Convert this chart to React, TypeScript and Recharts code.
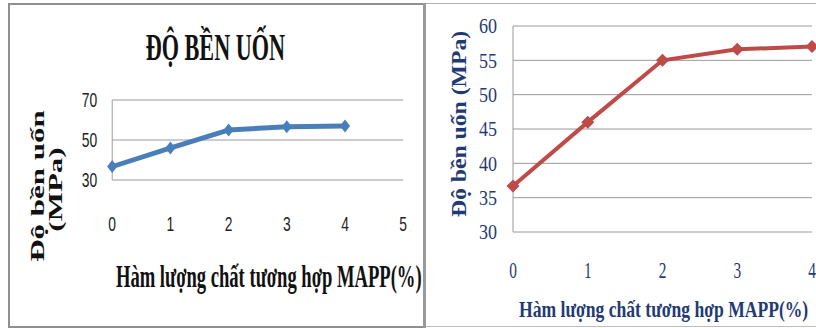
import { LineChart, Line, XAxis, YAxis, CartesianGrid } from "recharts";

// MAPP content (%) vs flexural strength (MPa)
const MAPP_LEVELS = [0, 1, 2, 3, 4];
const FLEX_STRENGTH = [36.7, 46.0, 55.0, 56.6, 57.0];

const LEFT_X_TICKS = [0, 1, 2, 3, 4, 5];
const LEFT_Y_TICKS = [30, 50, 70];
const RIGHT_X_TICKS = [0, 1, 2, 3, 4];
const RIGHT_Y_TICKS = [30, 35, 40, 45, 50, 55, 60];

const TITLE = "ĐỘ BỀN UỐN";
const X_TITLE = "Hàm lượng chất tương hợp MAPP(%)";
const Y_TITLE = "Độ bền uốn (MPa)";
const Y_TITLE_LINES = ["Độ bền uốn", "(MPa)"];

const SERIF = "'Liberation Serif', 'Times New Roman', serif";
const SANS = "'Liberation Sans', Arial, sans-serif";
const NAVY = "#1F3A74";
const BLUE = "#4A7EBB";
const RED = "#BE4B48";
const GRID = "#9a9a9a";

// the left panel is drawn wide and squeezed horizontally
const SQUEEZE = 0.6;
const LEFT_W = 708;

const data = MAPP_LEVELS.map((x, i) => ({ x, y: FLEX_STRENGTH[i] }));

// eslint-disable-next-line @typescript-eslint/no-explicit-any
type Any = any;

function diamond(rx: number, ry: number, fill: string) {
  return (p: Any) => {
    const { cx, cy, index } = p;
    if (cx == null || cy == null) return <g key={index} />;
    return (
      <polygon
        key={index}
        points={`${cx},${cy - ry} ${cx + rx},${cy} ${cx},${cy + ry} ${cx - rx},${cy}`}
        fill={fill}
      />
    );
  };
}

// tick text with its own horizontal stretch; `top` puts the glyph top at y instead of centering
function StretchTick(p: Any) {
  const { x, y, payload, sx, fontSize, fill, fontFamily, anchor, top, capH } = p;
  const dy = top ? fontSize * capH : fontSize * 0.35;
  return (
    <g transform={`translate(${x},${y}) scale(${sx},1)`}>
      <text x={0} y={dy} textAnchor={anchor} fontSize={fontSize} fill={fill} fontFamily={fontFamily}>
        {payload.value}
      </text>
    </g>
  );
}

function LeftPanel() {
  return (
    <div
      style={{
        position: "absolute", left: 0, top: 0, width: LEFT_W, height: 328,
        transform: `scaleX(${SQUEEZE})`, transformOrigin: "0 0",
      }}
    >
      <LineChart width={LEFT_W} height={328} data={data} margin={{ top: 100, right: 36, left: 127, bottom: 118 }}>
        <CartesianGrid vertical={false} stroke={GRID} strokeWidth={1.2} />
        <XAxis
          dataKey="x" type="number" domain={[0, 5]} ticks={LEFT_X_TICKS} height={30}
          axisLine={false} tickLine={false} tickSize={0} tickMargin={36}
          tick={(p: Any) => (
            <StretchTick {...p} sx={1.1} fontSize={21} fill="#222" fontFamily={SANS} anchor="middle" top capH={0.716} />
          )}
        />
        <YAxis
          type="number" domain={[30, 70]} ticks={LEFT_Y_TICKS} width={60}
          axisLine={{ stroke: GRID, strokeWidth: 1.6 }} tickLine={false} tickSize={0} tickMargin={25}
          tick={(p: Any) => (
            <StretchTick {...p} sx={1.1} fontSize={21} fill="#222" fontFamily={SANS} anchor="end" capH={0.716} />
          )}
        />
        <Line
          dataKey="y" stroke={BLUE} strokeWidth={5} isAnimationActive={false}
          dot={diamond(8.5, 6.5, BLUE)} activeDot={false}
        />
      </LineChart>
      <svg
        width={LEFT_W} height={328}
        style={{ position: "absolute", left: 0, top: 0, pointerEvents: "none" }}
      >
        <text x={359} y={60} textAnchor="middle" fontFamily={SERIF} fontWeight="bold" fontSize={37} fill="#111">
          {TITLE}
        </text>
        <text transform="translate(73,186) rotate(-90)" textAnchor="middle" fontFamily={SERIF} fontWeight="bold" fontSize={31} fill="#111">
          {Y_TITLE_LINES[0]}
        </text>
        <text transform="translate(103,189.5) rotate(-90)" textAnchor="middle" fontFamily={SERIF} fontWeight="bold" fontSize={31} fill="#111">
          {Y_TITLE_LINES[1]}
        </text>
        <text x={448} y={287} textAnchor="middle" fontFamily={SERIF} fontWeight="bold" fontSize={31} fill="#111">
          {X_TITLE}
        </text>
      </svg>
    </div>
  );
}

function RightPanel() {
  return (
    <div style={{ position: "absolute", left: 430, top: 0, width: 400, height: 328 }}>
      <LineChart width={400} height={328} data={data} margin={{ top: 26, right: 18, left: 43, bottom: 66 }}>
        <CartesianGrid vertical={false} stroke={GRID} />
        <XAxis
          dataKey="x" type="number" domain={[0, 4]} ticks={RIGHT_X_TICKS} height={30}
          axisLine={false} tickLine={false} tickSize={0} tickMargin={30}
          tick={(p: Any) => (
            <StretchTick {...p} sx={0.64} fontSize={24} fill={NAVY} fontFamily={SERIF} anchor="middle" top capH={0.676} />
          )}
        />
        <YAxis
          type="number" domain={[30, 60]} ticks={RIGHT_Y_TICKS} width={40}
          axisLine={{ stroke: GRID }} tickLine={false} tickSize={0} tickMargin={16}
          tick={(p: Any) => (
            <StretchTick {...p} sx={0.86} fontSize={21} fill={NAVY} fontFamily={SERIF} anchor="end" capH={0.676} />
          )}
        />
        <Line
          dataKey="y" stroke={RED} strokeWidth={4} isAnimationActive={false}
          dot={diamond(6.5, 6.5, RED)} activeDot={false}
        />
      </LineChart>
    </div>
  );
}

export default function App() {
  return (
    <div
      style={{
        position: "absolute", left: 0, top: 0, width: 816, height: 328,
        overflow: "hidden", background: "#fff",
      }}
    >
      <RightPanel />
      <LeftPanel />
      {/* panel frames */}
      <div style={{ position: "absolute", left: 8, top: 3, width: 417, height: 325, border: "2px solid #8f8f8f", borderRight: "none", boxSizing: "border-box" }} />
      <div style={{ position: "absolute", left: 423, top: 3, width: 3, height: 325, background: "#999" }} />
      <div style={{ position: "absolute", left: 426, top: 3, width: 390, height: 1, background: "#b0b0b0" }} />
      <div style={{ position: "absolute", left: 426, top: 326, width: 390, height: 1, background: "#bdbdbd" }} />
      <svg width={816} height={328} style={{ position: "absolute", left: 0, top: 0, pointerEvents: "none" }}>
        <text transform="translate(465.7,124) scale(0.85,1) rotate(-90)" textAnchor="middle" fontFamily={SERIF} fontWeight="bold" fontSize={23.7} fill={NAVY}>
          {Y_TITLE}
        </text>
        <text transform="translate(519,317) scale(0.765,1)" fontFamily={SERIF} fontWeight="bold" fontSize={23} fill={NAVY}>
          {X_TITLE}
        </text>
      </svg>
    </div>
  );
}
